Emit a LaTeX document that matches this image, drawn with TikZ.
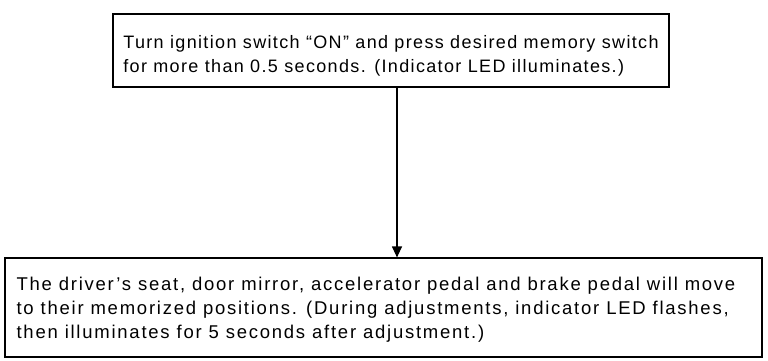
\documentclass[tikz,border=0pt]{standalone}
\usepackage{fontspec}
\setmainfont{Liberation Sans}
\usetikzlibrary{arrows.meta}
\tikzset{
  memobox/.style={draw,line width=1.2bp,inner sep=0pt},
  memotext/.style={align=left,inner sep=0pt},
}
\begin{document}
\begin{tikzpicture}[x=1bp,y=-1bp]
    \useasboundingbox (0,0) rectangle (768,360);
    \node[memobox,minimum width=556bp,minimum height=73bp] (memsw) at (391,50.5) {};
    \node[memotext,font=\addfontfeature{LetterSpace=7.5}\fontsize{18bp}{24bp}\selectfont] (memswtext) at ([yshift=-5bp]memsw.center) {Turn ignition switch “ON” and press desired memory switch\\for more than 0.5 seconds. (Indicator LED illuminates.)};
    \node[memobox,minimum width=757bp,minimum height=99bp] (memmove) at (383.5,307.5) {};
    \node[memotext,anchor=west,font=\addfontfeature{LetterSpace=9.5}\fontsize{18.5bp}{24bp}\selectfont] (memmovetext) at ([xshift=12bp,yshift=-2bp]memmove.west) {The driver’s seat, door mirror, accelerator pedal and brake pedal will move\\to their memorized positions. (During adjustments, indicator LED flashes,\\then illuminates for 5 seconds after adjustment.)};
    \coordinate (ax) at (397,0);
    \draw[line width=1.2bp,-{Triangle[length=11bp,width=10bp]}] (memsw.south -| ax) -- (memmove.north -| ax);
\end{tikzpicture}
\end{document}
